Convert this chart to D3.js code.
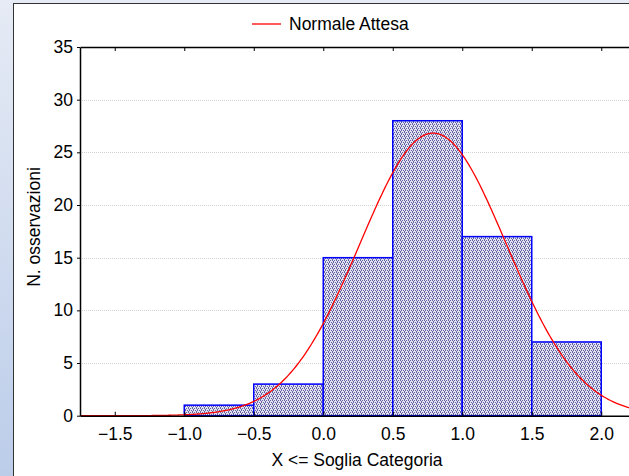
<!DOCTYPE html>
<html><head><meta charset="utf-8">
<script src="https://cdn.jsdelivr.net/npm/d3@7"></script>
<style>body{margin:0;padding:0;overflow:hidden;} svg{display:block;font-family:"Liberation Sans",Arial,sans-serif;}</style>
</head><body>
<script>
// Data
const binStarts = [-1.5, -1.0, -0.5, 0.0, 0.5, 1.0, 1.5];
const binEnds   = [-1.0, -0.5, 0.0, 0.5, 1.0, 1.5, 2.0];
const counts    = [0, 1, 3, 15, 28, 17, 7];
const xTicks = [-1.5, -1.0, -0.5, 0.0, 0.5, 1.0, 1.5, 2.0];
const yTicks = [0, 5, 10, 15, 20, 25, 30, 35];
const normalMean = 0.79, normalSd = 0.528, binWidth = 0.5;
const legendLabel = "Normale Attesa";
const xTitle = "X <= Soglia Categoria";
const yTitle = "N. osservazioni";

const W = 629, H = 476, FS = 17.5;
const svg = d3.select("body").append("svg").attr("width", W).attr("height", H);
const defs = svg.append("defs");
const grad = defs.append("linearGradient").attr("id","bg").attr("x1",0).attr("y1",0).attr("x2",0).attr("y2",1);
grad.append("stop").attr("offset","0%").attr("stop-color","#e6ebf5");
grad.append("stop").attr("offset","100%").attr("stop-color","#bccdea");
const pat = defs.append("pattern").attr("id","hatch").attr("patternUnits","userSpaceOnUse").attr("width",4).attr("height",4);
pat.append("rect").attr("width",4).attr("height",4).attr("fill","#e2e2f0");
[[0,0],[2,0],[1,1],[3,2],[1,2],[0,3]].forEach(([a,b])=>pat.append("rect").attr("x",a).attr("y",b).attr("width",1).attr("height",1).attr("fill","#6464a4"));

svg.append("rect").attr("width",W).attr("height",H).attr("fill","url(#bg)");
svg.append("rect").attr("x",13.5).attr("y",3.5).attr("width",W).attr("height",H).attr("fill","#fff").attr("stroke","#333").attr("stroke-width",1);

const x = d3.scaleLinear().domain([-1.75, 2.25]).range([80, 636]);
const y = d3.scaleLinear().domain([0, 35]).range([415.7, 47]);
const L = 80, R = 636, T = 47, B = 415.7;

// grid
svg.append("g").selectAll("line").data(yTicks.filter(v=>v>0&&v<35)).join("line")
  .attr("x1",L).attr("x2",R).attr("y1",d=>Math.round(y(d))+0.5).attr("y2",d=>Math.round(y(d))+0.5)
  .attr("stroke","#d2d2d2").attr("stroke-width",1).attr("stroke-dasharray","1,1");

// bars
const bins = counts.map((c,i)=>({x0:binStarts[i], x1:binEnds[i], c}));
svg.append("g").selectAll("rect").data(bins.filter(d=>d.c>0)).join("rect")
  .attr("x",d=>x(d.x0)).attr("width",d=>x(d.x1)-x(d.x0))
  .attr("y",d=>y(d.c)).attr("height",d=>y(0)-y(d.c))
  .attr("fill","url(#hatch)").attr("stroke","#0000ff").attr("stroke-width",1.5);

// normal curve
const total = d3.sum(counts);
const xs = d3.range(-1.75, 2.2501, 0.01);
const curve = xs.map(v=>[v, total*binWidth*Math.exp(-0.5*((v-normalMean)/normalSd)**2)/(normalSd*Math.sqrt(2*Math.PI))]);
svg.append("path").datum(curve)
  .attr("d", d3.line().x(d=>x(d[0])).y(d=>y(d[1])))
  .attr("fill","none").attr("stroke","#ff0000").attr("stroke-width",1.3);

// axes
const axB = svg.append("g").attr("transform",`translate(0,${B})`)
  .call(d3.axisBottom(x).tickValues(xTicks).tickFormat(d3.format(".1f")).tickSizeInner(-4).tickSizeOuter(0).tickPadding(12));
const axT = svg.append("g").attr("transform",`translate(0,${T})`)
  .call(d3.axisTop(x).tickValues(xTicks).tickFormat("").tickSizeInner(-4).tickSizeOuter(0));
const axL = svg.append("g").attr("transform",`translate(${L},0)`)
  .call(d3.axisLeft(y).tickValues(yTicks).tickSizeInner(3).tickSizeOuter(0).tickPadding(4));
[axB,axT,axL].forEach(g=>{
  g.attr("font-size",FS).attr("font-family","Liberation Sans, Arial, sans-serif");
  g.select(".domain").attr("stroke","#000").attr("stroke-width",1.5);
  g.selectAll(".tick line").attr("stroke","#000");
  g.selectAll("text").attr("fill","#000");
});

// titles
svg.append("text").attr("x",357).attr("y",466).attr("text-anchor","middle").attr("font-size",FS).text(xTitle);
svg.append("text").attr("transform",`translate(40,${227}) rotate(-90)`).attr("text-anchor","middle").attr("font-size",FS).text(yTitle);

// legend
svg.append("line").attr("x1",252).attr("x2",281).attr("y1",24).attr("y2",24).attr("stroke","#ff0000").attr("stroke-width",1.3);
svg.append("text").attr("x",289).attr("y",29.5).attr("font-size",FS).text(legendLabel);
</script>
</body></html>
